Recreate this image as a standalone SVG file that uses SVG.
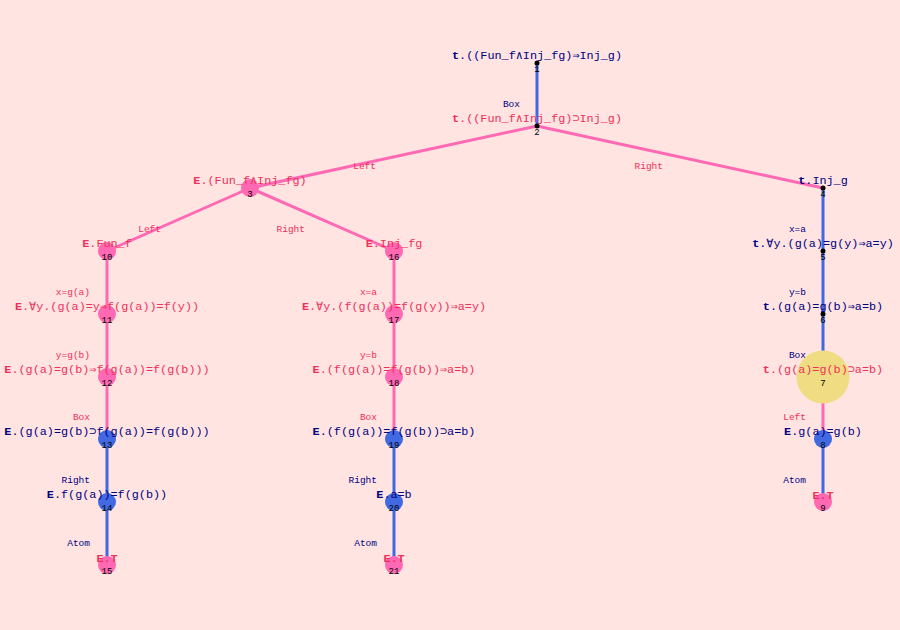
<svg xmlns="http://www.w3.org/2000/svg" width="900" height="630" viewBox="0 0 900 630">
<style>
.bg{fill:#ffe4e1}
.e{stroke-width:3;fill:none}
.eb{stroke:#4169e1}
.ep{stroke:#ff69b4}
.f{font-family:"Liberation Mono","DejaVu Sans Mono",monospace;font-size:11.8px;text-anchor:middle}
.n{fill:#000080}
.p{fill:#f0305a}
.b{font-weight:bold}
.num{font-family:"Liberation Mono","DejaVu Sans Mono",monospace;font-size:9px;text-anchor:middle;fill:#000}
.l{font-family:"Liberation Mono","DejaVu Sans Mono",monospace;font-size:9.5px;text-anchor:end}
.cp{fill:#ff69b4}
.cb{fill:#4169e1}
.cy{fill:#f0dc82}
.dot{fill:#000}
</style>
<rect class="bg" x="0" y="0" width="900" height="630"/>
<g id="connectors">
<line class="e eb" x1="537" y1="63" x2="537" y2="126"/>
<line class="e ep" x1="537" y1="126" x2="250" y2="188"/>
<line class="e ep" x1="537" y1="126" x2="823" y2="188"/>
<line class="e ep" x1="250" y1="188" x2="107" y2="251"/>
<line class="e ep" x1="250" y1="188" x2="394" y2="251"/>
<line class="e ep" x1="107" y1="251" x2="107" y2="314"/>
<line class="e ep" x1="107" y1="314" x2="107" y2="377"/>
<line class="e ep" x1="107" y1="377" x2="107" y2="439"/>
<line class="e eb" x1="107" y1="439" x2="107" y2="502"/>
<line class="e eb" x1="107" y1="502" x2="107" y2="565"/>
<line class="e ep" x1="394" y1="251" x2="394" y2="314"/>
<line class="e ep" x1="394" y1="314" x2="394" y2="377"/>
<line class="e ep" x1="394" y1="377" x2="394" y2="439"/>
<line class="e eb" x1="394" y1="439" x2="394" y2="502"/>
<line class="e eb" x1="394" y1="502" x2="394" y2="565"/>
<line class="e eb" x1="823" y1="188" x2="823" y2="251"/>
<line class="e eb" x1="823" y1="251" x2="823" y2="314"/>
<line class="e eb" x1="823" y1="314" x2="823" y2="377"/>
<line class="e ep" x1="823" y1="377" x2="823" y2="439"/>
<line class="e eb" x1="823" y1="439" x2="823" y2="502"/>
<text class="l n" x="520" y="107">Box</text>
<text class="l p" x="376" y="169">Left</text>
<text class="l p" x="663" y="169">Right</text>
<text class="l p" x="161" y="232">Left</text>
<text class="l p" x="305" y="232">Right</text>
<text class="l p" x="90" y="295">x=g(a)</text>
<text class="l p" x="90" y="358">y=g(b)</text>
<text class="l p" x="90" y="420">Box</text>
<text class="l n" x="90" y="483">Right</text>
<text class="l n" x="90" y="546">Atom</text>
<text class="l p" x="377" y="295">x=a</text>
<text class="l p" x="377" y="358">y=b</text>
<text class="l p" x="377" y="420">Box</text>
<text class="l n" x="377" y="483">Right</text>
<text class="l n" x="377" y="546">Atom</text>
<text class="l n" x="806" y="232">x=a</text>
<text class="l n" x="806" y="295">y=b</text>
<text class="l n" x="806" y="358">Box</text>
<text class="l p" x="806" y="420">Left</text>
<text class="l n" x="806" y="483">Atom</text>
</g>
<g id="node1"><circle class="dot" cx="537" cy="63" r="2.5"/><text class="f n" x="537" y="59"><tspan class="b">t</tspan>.((Fun_f∧Inj_fg)⇒Inj_g)</text><text class="num" x="537" y="72">1</text></g>
<g id="node2"><circle class="dot" cx="537" cy="126" r="2.5"/><text class="f p" x="537" y="122"><tspan class="b">t</tspan>.((Fun_f∧Inj_fg)⊃Inj_g)</text><text class="num" x="537" y="135">2</text></g>
<g id="node3"><circle class="cp" cx="250" cy="188" r="9"/><text class="f p" x="250" y="184"><tspan class="b">E</tspan>.(Fun_f∧Inj_fg)</text><text class="num" x="250" y="197">3</text></g>
<g id="node4"><circle class="dot" cx="823" cy="188" r="2.5"/><text class="f n" x="823" y="184"><tspan class="b">t</tspan>.Inj_g</text><text class="num" x="823" y="197">4</text></g>
<g id="node5"><circle class="dot" cx="823" cy="251" r="2.5"/><text class="f n" x="823" y="247"><tspan class="b">t</tspan>.∀y.(g(a)=g(y)⇒a=y)</text><text class="num" x="823" y="260">5</text></g>
<g id="node6"><circle class="dot" cx="823" cy="314" r="2.5"/><text class="f n" x="823" y="310"><tspan class="b">t</tspan>.(g(a)=g(b)⇒a=b)</text><text class="num" x="823" y="323">6</text></g>
<g id="node7"><circle class="cy" cx="823" cy="377" r="26.5"/><text class="f p" x="823" y="373"><tspan class="b">t</tspan>.(g(a)=g(b)⊃a=b)</text><text class="num" x="823" y="386">7</text></g>
<g id="node8"><circle class="cb" cx="823" cy="439" r="9"/><text class="f n" x="823" y="435"><tspan class="b">E</tspan>.g(a)=g(b)</text><text class="num" x="823" y="448">8</text></g>
<g id="node9"><circle class="cp" cx="823" cy="502" r="9"/><text class="f p b" x="823" y="499">E.T</text><text class="num" x="823" y="511">9</text></g>
<g id="node10"><circle class="cp" cx="107" cy="251" r="9"/><text class="f p" x="107" y="247"><tspan class="b">E</tspan>.Fun_f</text><text class="num" x="107" y="260">10</text></g>
<g id="node11"><circle class="cp" cx="107" cy="314" r="9"/><text class="f p" x="107" y="310"><tspan class="b">E</tspan>.∀y.(g(a)=y⇒f(g(a))=f(y))</text><text class="num" x="107" y="323">11</text></g>
<g id="node12"><circle class="cp" cx="107" cy="377" r="9"/><text class="f p" x="107" y="373"><tspan class="b">E</tspan>.(g(a)=g(b)⇒f(g(a))=f(g(b)))</text><text class="num" x="107" y="386">12</text></g>
<g id="node13"><circle class="cb" cx="107" cy="439" r="9"/><text class="f n" x="107" y="435"><tspan class="b">E</tspan>.(g(a)=g(b)⊃f(g(a))=f(g(b)))</text><text class="num" x="107" y="448">13</text></g>
<g id="node14"><circle class="cb" cx="107" cy="502" r="9"/><text class="f n" x="107" y="498"><tspan class="b">E</tspan>.f(g(a))=f(g(b))</text><text class="num" x="107" y="511">14</text></g>
<g id="node15"><circle class="cp" cx="107" cy="565" r="9"/><text class="f p b" x="107" y="562">E.T</text><text class="num" x="107" y="574">15</text></g>
<g id="node16"><circle class="cp" cx="394" cy="251" r="9"/><text class="f p" x="394" y="247"><tspan class="b">E</tspan>.Inj_fg</text><text class="num" x="394" y="260">16</text></g>
<g id="node17"><circle class="cp" cx="394" cy="314" r="9"/><text class="f p" x="394" y="310"><tspan class="b">E</tspan>.∀y.(f(g(a))=f(g(y))⇒a=y)</text><text class="num" x="394" y="323">17</text></g>
<g id="node18"><circle class="cp" cx="394" cy="377" r="9"/><text class="f p" x="394" y="373"><tspan class="b">E</tspan>.(f(g(a))=f(g(b))⇒a=b)</text><text class="num" x="394" y="386">18</text></g>
<g id="node19"><circle class="cb" cx="394" cy="439" r="9"/><text class="f n" x="394" y="435"><tspan class="b">E</tspan>.(f(g(a))=f(g(b))⊃a=b)</text><text class="num" x="394" y="448">19</text></g>
<g id="node20"><circle class="cb" cx="394" cy="502" r="9"/><text class="f n" x="394" y="498"><tspan class="b">E</tspan>.a=b</text><text class="num" x="394" y="511">20</text></g>
<g id="node21"><circle class="cp" cx="394" cy="565" r="9"/><text class="f p b" x="394" y="562">E.T</text><text class="num" x="394" y="574">21</text></g>
</svg>
